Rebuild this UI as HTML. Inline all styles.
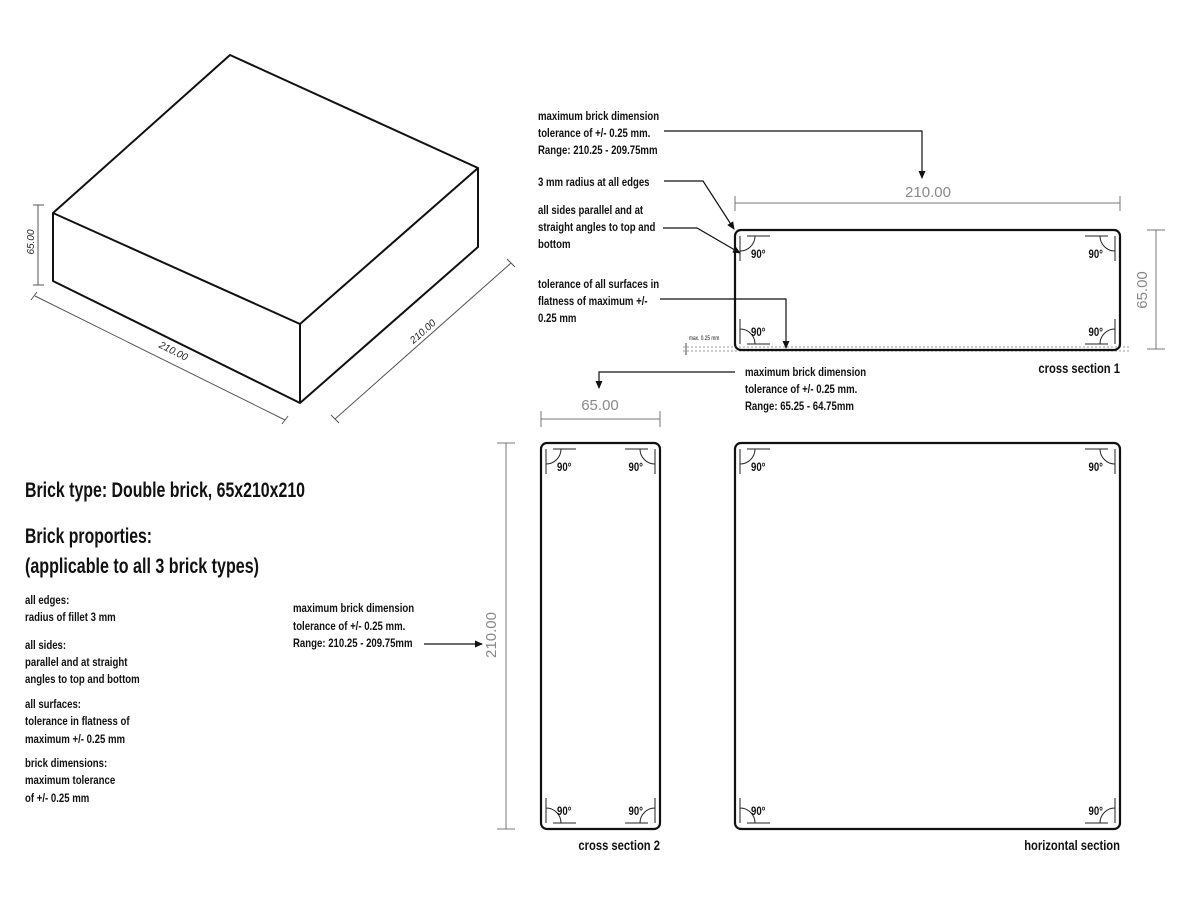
<!DOCTYPE html>
<html><head><meta charset="utf-8"><style>
html,body{margin:0;padding:0;background:#fff;}
svg{display:block;}
.t{font-family:"Liberation Sans Narrow","Liberation Sans",sans-serif;font-weight:bold;fill:#111;font-size:12px;}
.h{font-family:"Liberation Sans Narrow","Liberation Sans",sans-serif;font-weight:bold;fill:#111;font-size:21px;}
.d{font-family:"Liberation Sans",sans-serif;fill:#888;font-size:15px;}
.di{font-family:"Liberation Sans",sans-serif;font-style:italic;fill:#222;font-size:10px;}
</style></head><body>
<svg id="s" width="1200" height="900" viewBox="0 0 1200 900" xmlns="http://www.w3.org/2000/svg">
<defs><marker id="a" markerWidth="8" markerHeight="8" refX="7" refY="4" orient="auto" markerUnits="userSpaceOnUse"><path d="M0,0.5 L8,4 L0,7.5 z" fill="#111"/></marker></defs>
<g fill="none" stroke="#111" stroke-width="2" stroke-linejoin="round">
<path d="M230,55 L478,168 L300,324 L53,213 Z"/>
<path d="M53,213 L53,281 L300,403 L478,247 L478,168"/>
<path d="M300,324 L300,403"/>
</g>
<g stroke="#555" stroke-width="1" fill="none">
<path d="M38,205 V285 M33,205 H44 M33,285 H44"/>
<path d="M35,296 L285,420 M31,300 L37,292 M282,424 L288,416"/>
<path d="M335,419 L511,263 M331,415 L339,423 M507,259 L515,267"/>
</g>
<text class="di" transform="translate(34,242) rotate(-90)" text-anchor="middle">65.00</text>
<text class="di" transform="translate(172,354) rotate(26.5)" text-anchor="middle">210.00</text>
<text class="di" transform="translate(425,334) rotate(-41.6)" text-anchor="middle">210.00</text>

<text class="h" x="25" y="497" textLength="280" lengthAdjust="spacingAndGlyphs">Brick type: Double brick, 65x210x210</text>
<text class="h" x="25" y="543" textLength="127" lengthAdjust="spacingAndGlyphs">Brick proporties:</text>
<text class="h" x="25" y="573" textLength="234" lengthAdjust="spacingAndGlyphs">(applicable to all 3 brick types)</text>
<g>
<text class="t" x="25" y="604">all edges:</text>
<text class="t" x="25" y="621">radius of fillet 3 mm</text>
<text class="t" x="25" y="649">all sides:</text>
<text class="t" x="25" y="666">parallel and at straight</text>
<text class="t" x="25" y="683">angles to top and bottom</text>
<text class="t" x="25" y="708">all surfaces:</text>
<text class="t" x="25" y="725">tolerance in flatness of</text>
<text class="t" x="25" y="743">maximum +/- 0.25 mm</text>
<text class="t" x="25" y="767">brick dimensions:</text>
<text class="t" x="25" y="784">maximum tolerance</text>
<text class="t" x="25" y="802">of +/- 0.25 mm</text>

<text class="t" x="293" y="612">maximum brick dimension</text>
<text class="t" x="293" y="630">tolerance of +/- 0.25 mm.</text>
<text class="t" x="293" y="647">Range: 210.25 - 209.75mm</text>

<text class="t" x="538" y="120">maximum brick dimension</text>
<text class="t" x="538" y="137">tolerance of +/- 0.25 mm.</text>
<text class="t" x="538" y="154">Range: 210.25 - 209.75mm</text>
<text class="t" x="538" y="186">3 mm radius at all edges</text>
<text class="t" x="538" y="214">all sides parallel and at</text>
<text class="t" x="538" y="231">straight angles to top and</text>
<text class="t" x="538" y="248">bottom</text>
<text class="t" x="538" y="288">tolerance of all surfaces in</text>
<text class="t" x="538" y="305">flatness of maximum +/-</text>
<text class="t" x="538" y="322">0.25 mm</text>
<text class="t" x="745" y="376">maximum brick dimension</text>
<text class="t" x="745" y="393">tolerance of +/- 0.25 mm.</text>
<text class="t" x="745" y="410">Range: 65.25 - 64.75mm</text>
<text class="t" x="1120" y="373" text-anchor="end" style="font-size:14px">cross section 1</text>
<text class="t" x="660" y="850" text-anchor="end" style="font-size:14px">cross section 2</text>
<text class="t" x="1120" y="850" text-anchor="end" style="font-size:14px">horizontal section</text>
<text class="t" x="689" y="340" style="font-size:6px;font-weight:normal">max. 0.25 mm</text>
</g>

<g stroke="#111" stroke-width="1.2" fill="none">
<path d="M664,131 H922 V178" marker-end="url(#a)"/>
<path d="M664,181 H703 L734,229" marker-end="url(#a)"/>
<path d="M663,228 H697 L740,253" marker-end="url(#a)"/>
<path d="M660,299 H786 V348" marker-end="url(#a)"/>
<path d="M735,372 H599 V388" marker-end="url(#a)"/>
<path d="M424,644 H482" marker-end="url(#a)"/>
</g>

<g stroke="#777" stroke-width="1" fill="none">
<path d="M735,203 H1120 M735,196 V211 M1120,196 V211"/>
<path d="M1156,230 V349 M1147,230 H1165 M1147,349 H1165"/>
<path d="M541,419 H660 M541,411 V427 M660,411 V427"/>
<path d="M506,443 V829 M497,443 H515 M497,829 H515"/>
</g>
<g stroke="#999" stroke-width="1" stroke-dasharray="2,2" fill="none">
<path d="M683,347 H1130 M683,351 H1130"/>
<path d="M686,343 V355" stroke-dasharray="none" stroke="#444"/>
</g>
<text class="d" x="928" y="197" text-anchor="middle">210.00</text>
<text class="d" transform="translate(1147,290) rotate(-90)" text-anchor="middle">65.00</text>
<text class="d" x="600" y="410" text-anchor="middle">65.00</text>
<text class="d" transform="translate(496,635) rotate(-90)" text-anchor="middle">210.00</text>

<g fill="none" stroke="#111" stroke-width="2.2">
<rect x="735" y="230" width="385" height="120" rx="6"/>
<rect x="541" y="443" width="119" height="386" rx="6"/>
<rect x="735" y="443" width="385" height="386" rx="6"/>
</g>
<g id="marks"></g>
</svg>
<script>
var NS="http://www.w3.org/2000/svg",g=document.getElementById("marks");
function el(t,a,txt){var e=document.createElementNS(NS,t);for(var k in a)e.setAttribute(k,a[k]);if(txt)e.textContent=txt;g.appendChild(e);return e;}
function marks(x1,y1,x2,y2){
 [[x1,y1,1,1],[x2,y1,-1,1],[x1,y2,1,-1],[x2,y2,-1,-1]].forEach(function(c){
  var x=c[0],y=c[1],sx=c[2],sy=c[3];
  var vx=x+5*sx,hy=y+6*sy;
  var d="M"+vx+","+(y+6*sy)+" V"+(y+31*sy)+" M"+(x+12*sx)+","+hy+" H"+(x+35*sx)+
   " M"+(x+20*sx)+","+hy+" A15,15 0 0 "+((sx*sy>0)?1:0)+" "+vx+","+(y+21*sy);
  el("path",{d:d,stroke:"#222","stroke-width":"1",fill:"none"});
  var tx=sx>0?x+16:x-17, ty=sy>0?y+28:y-14;
  el("text",{x:tx,y:ty,"class":"t","text-anchor":sx>0?"start":"end"},"90°");
 });
}
marks(735,230,1120,350);marks(541,443,660,829);marks(735,443,1120,829);
var ts=document.querySelectorAll("text.t");
for(var i=0;i<ts.length;i++){var L=ts[i].getComputedTextLength();ts[i].setAttribute("textLength",(L*0.8).toFixed(1));ts[i].setAttribute("lengthAdjust","spacingAndGlyphs");}
</script>
</body></html>
